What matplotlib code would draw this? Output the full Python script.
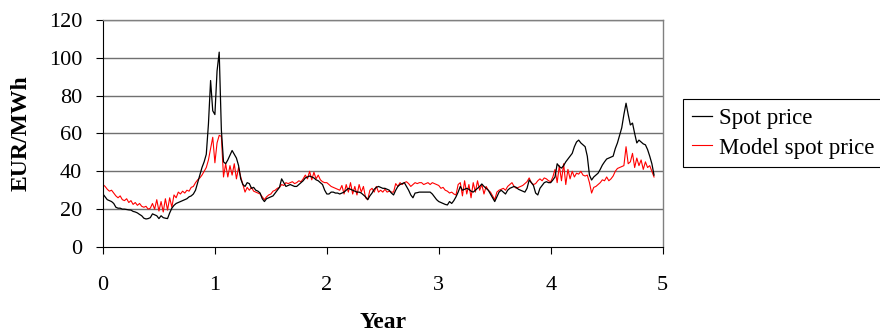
import matplotlib
matplotlib.use("Agg")
import matplotlib.pyplot as plt
import numpy as np

plt.rcParams.update({
    "font.family": "Liberation Serif",
    "font.size": 16,
})

# weekly observations, week 0 = start of year 0
WEEKS_PER_YEAR = 52

spot_price = [
    28, 26.5, 25, 24.5, 24, 23, 21, 20.5, 20.5, 20, 20, 19.8, 19.6,
    19.5, 18.8, 18.5, 18, 17.2, 16.5, 15.2, 14.8, 15, 15.5, 17.5, 17, 16.5,
    15, 16.5, 15.5, 15.2, 15, 18, 20.5, 22, 23, 23.5, 24, 24.5, 25,
    25.5, 26.5, 27, 28, 30, 34, 38, 42, 45, 49, 65, 88, 72,
    70, 93, 103, 62, 45, 44, 46, 48.5, 51, 49, 47, 43, 36,
    33, 32, 34, 33.5, 31, 31.5, 30, 29.5, 28.5, 25.5, 24, 25.5, 26,
    26.5, 27, 28.5, 30, 31.5, 36, 34, 32, 32.5, 33, 32.5, 32, 32,
    33, 34, 35, 36.5, 37, 37.5, 37, 36.5, 35.5, 35, 34, 33, 30,
    28, 28, 29, 29, 28.5, 28.5, 28, 28.5, 29, 30, 31, 30.5, 30,
    29.5, 29, 29, 28.5, 27.5, 26.5, 25, 27, 28.5, 30.5, 31.5, 32, 31.5,
    31, 31, 30.5, 30, 28.5, 27.5, 30, 32, 33, 33.5, 34, 32, 30,
    27.5, 26, 28.5, 28.7, 29, 29, 29, 29, 29, 29, 28, 26.5, 25,
    24, 23.5, 23, 22.5, 22.2, 24, 23, 24.5, 26.5, 29, 32, 30, 30.5,
    31, 30.5, 29.5, 29, 30, 31, 32, 33.3, 32, 31, 30, 28, 26,
    24, 26.5, 29, 30, 29, 28, 30, 31, 31.5, 32, 31.5, 30.5, 30,
    29.5, 29, 31, 35.4, 34, 32.5, 28.5, 27.5, 31, 32.5, 34, 34.5, 34,
    34, 35.4, 37, 44, 42.5, 41.7, 43, 45, 46.5, 48, 49.5, 53, 55.5,
    56.5, 55, 54, 53, 48, 38, 35.4, 37, 38, 39, 41, 43.3, 45,
    46.5, 47, 47.5, 48, 52, 55, 59, 63, 70, 76, 70, 64.5, 65.5,
    60, 55, 56.5, 55.5, 54.5, 54, 51.5, 48, 44, 38,
]

model_spot_price = [
    33, 32, 30.5, 29.5, 30, 28.5, 27, 26, 27, 25, 24.5, 25.5, 23.5,
    24.5, 22.5, 23.5, 22, 23, 21.5, 21, 21.5, 20, 20.5, 23, 20, 25,
    19, 24, 18.5, 25.5, 19.5, 26, 21, 27.5, 26, 29, 28, 29.5, 28.5,
    30, 29.5, 31.5, 32, 34, 35.5, 36.5, 38, 40, 42, 46, 52, 58,
    44.5, 55, 59, 58.5, 37, 44, 37, 43, 38, 44, 36, 42, 37,
    33, 29, 31.5, 30, 31.5, 29.5, 29, 28.5, 28, 26.5, 25, 26.5, 27.5,
    28, 29.5, 30, 31, 31.5, 33, 32.5, 34, 33.5, 34, 34.5, 33.5, 34,
    35, 34.5, 36, 38, 36, 40, 35.5, 39.5, 36, 38, 35.5, 34.5, 34,
    34, 33, 32, 31.5, 31, 30.5, 30, 32.5, 28, 33, 29, 34, 28,
    32, 27.5, 33, 29, 32, 26, 25, 30, 31, 29, 32, 29, 30,
    29, 30.5, 29, 29.5, 29, 29, 33.5, 32, 34, 33, 34, 34.5, 33.5,
    32, 33, 34, 33.5, 34, 34, 33, 33.5, 34, 33, 34, 33.5, 33,
    32.5, 31, 31.5, 30, 29.5, 28.5, 29, 28, 27.5, 33, 34, 27, 35,
    28, 33, 26, 34, 29, 35, 30, 33, 28, 32, 30, 29, 27,
    25, 29, 30, 30.5, 31, 30, 32, 33, 34, 32, 31, 31.5, 32,
    32.5, 33.5, 34.5, 36.5, 34, 33, 33.5, 35, 36, 35, 36.5, 36, 35,
    34.5, 37, 41, 34, 43, 35, 44, 33, 41, 36, 40, 37, 39,
    38.5, 40, 38, 37.5, 38, 34, 28.5, 31.5, 32, 33, 34, 35.5, 35,
    37, 35, 36, 37.5, 40, 41.5, 42, 42.5, 43, 53, 44, 45, 49.5,
    42, 47, 43, 46, 41, 45, 42, 43, 40, 37,
]

y_ticks = [0, 20, 40, 60, 80, 100, 120]
x_ticks = [0, 1, 2, 3, 4, 5]

spot = np.array(spot_price)
model = np.array(model_spot_price)
years = np.arange(len(spot)) / WEEKS_PER_YEAR

fig = plt.figure(figsize=(8.8, 3.36), dpi=100)
ax = fig.add_axes([0.117, 0.265, 0.636, 0.6755])

for y in y_ticks[1:]:
    ax.axhline(y, color="#707070", lw=1.0, zorder=1)

ax.plot(years, spot, color="black", lw=0.9, label="Spot price", zorder=3)
ax.plot(years, model, color="#ff0000", lw=0.8, label="Model spot price", zorder=2)

ax.set_xlim(0, 5)
ax.set_ylim(0, 120)
ax.set_xticks(x_ticks)
ax.set_yticks(y_ticks)
ax.tick_params(axis="both", direction="out", length=5, width=0.8, labelsize=16)
ax.tick_params(axis="x", pad=16)
ax.tick_params(axis="y", pad=10)

for side in ("top", "right"):
    ax.spines[side].set_color("#808080")
    ax.spines[side].set_linewidth(1.0)
for side in ("left", "bottom"):
    ax.spines[side].set_color("black")
    ax.spines[side].set_linewidth(0.8)

ax.set_ylabel("EUR/MWh", fontsize=17, fontweight="bold", labelpad=12)
ax.set_xlabel("Year", fontsize=17, fontweight="bold", labelpad=12)

leg = fig.legend(loc="upper left", bbox_to_anchor=(683 / 880, 1 - 99 / 336),
                 fontsize=16.5, frameon=True, fancybox=False, framealpha=1,
                 edgecolor="black", handlelength=0.9, handletextpad=0.3,
                 borderpad=0.38, labelspacing=0.38, borderaxespad=0)
leg.get_frame().set_linewidth(0.8)

fig.savefig("out.png", dpi=100)
